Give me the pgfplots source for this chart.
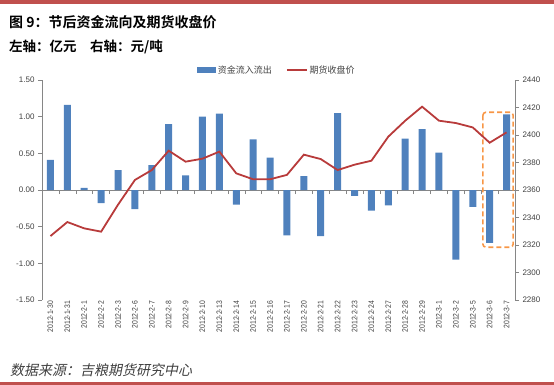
\documentclass[border=0pt]{standalone}
\usepackage{pgfplots}
\pgfplotsset{compat=1.18}
\usepackage{fontspec}
\setmainfont{Liberation Sans}
\newfontfamily\cjk{Noto Sans CJK SC}
\newfontfamily\cjkb{Noto Sans CJK SC Bold}
\newfontfamily\cjkit[FakeSlant=0.2]{Noto Sans CJK SC}
\newfontfamily\narrow[FakeStretch=0.85]{Liberation Sans}
\definecolor{barblue}{HTML}{4F81BD}
\definecolor{linered}{HTML}{B83B3B}
\definecolor{frame}{HTML}{C0504D}
\definecolor{axgray}{HTML}{868686}
\definecolor{boxorange}{HTML}{F79646}
\definecolor{txt}{HTML}{404040}
\pgfplotsset{base/.style={at={(42pt,-300pt)}, anchor=south west, width=473pt, height=220pt,
  scale only axis, xmin=-0.5, xmax=27.5, clip=false,
  tick style={axgray, thin}, major tick length=4pt,
  /pgf/number format/assume math mode=true,
  /pgf/number format/set thousands separator={}}}
\begin{document}
\begin{tikzpicture}
\path[use as bounding box] (0pt,0pt) rectangle (554pt,-385pt);
\fill[frame] (0pt,0pt) rectangle (554pt,-4pt);
\fill[frame] (0pt,-382pt) rectangle (554pt,-385pt);
\node[anchor=west, inner sep=0pt, font=\cjkb\fontsize{14}{16}\selectfont] at (9pt,-22.5pt) {图 9：节后资金流向及期货收盘价};
\node[anchor=west, inner sep=0pt, font=\cjkb\fontsize{13.5}{16}\selectfont] at (9pt,-47pt) {左轴：亿元\quad 右轴：元/吨};
\node[anchor=west, inner sep=0pt, text=txt, font=\cjkit\fontsize{14}{16}\selectfont] at (10pt,-370pt) {数据来源：吉粮期货研究中心};

% x tick labels
\begin{axis}[base, ymin=-1.5, ymax=1.5,
  axis x line*=bottom, axis y line=none, x axis line style={draw=none},
  xtick={0,...,27}, xtick style={draw=none},
  xticklabels={2012-1-30,2012-1-31,2012-2-1,2012-2-2,2012-2-3,2012-2-6,2012-2-7,2012-2-8,2012-2-9,2012-2-10,2012-2-13,2012-2-14,2012-2-15,2012-2-16,2012-2-17,2012-2-20,2012-2-21,2012-2-22,2012-2-23,2012-2-24,2012-2-27,2012-2-28,2012-2-29,2012-3-1,2012-3-2,2012-3-5,2012-3-6,2012-3-7},
  xticklabel style={rotate=90, anchor=east, inner sep=1pt, text=txt, font=\narrow\fontsize{8}{9}\selectfont}]
\addplot[draw=none] coordinates {(0,0)};
\end{axis}

% bars, left axis
\begin{axis}[base, ymin=-1.5, ymax=1.5,
  axis x line=middle, axis y line*=left,
  x axis line style={-, axgray}, y axis line style={-, axgray},
  hide obscured x ticks=false, hide obscured y ticks=false,
  xtick={0.5,1.5,...,26.5}, xticklabels={}, xtick align=outside,
  ytick={-1.5,-1,...,1.5}, ytick align=outside,
  yticklabel style={text=txt, font=\fontsize{8}{9}\selectfont,
    /pgf/number format/.cd, fixed, fixed zerofill, precision=2}]
\addplot[ybar, bar width=7pt, fill=barblue, draw=none] coordinates {
(0,0.41) (1,1.16) (2,0.03) (3,-0.18) (4,0.27) (5,-0.26) (6,0.34) (7,0.90)
(8,0.20) (9,1.00) (10,1.04) (11,-0.20) (12,0.69) (13,0.44) (14,-0.62) (15,0.19)
(16,-0.63) (17,1.05) (18,-0.08) (19,-0.28) (20,-0.21) (21,0.70) (22,0.83) (23,0.51)
(24,-0.95) (25,-0.23) (26,-0.72) (27,1.03)};
\draw[boxorange, line width=1.6pt, dash pattern=on 5pt off 3pt, rounded corners=3pt]
  (axis cs:25.6,1.06) rectangle (axis cs:27.39,-0.78);
\end{axis}

% line, right axis
\begin{axis}[base, ymin=2280, ymax=2440,
  axis x line=none, axis y line*=right, y axis line style={-, axgray},
  ytick={2280,2300,...,2440}, ytick align=outside,
  yticklabel style={text=txt, font=\fontsize{8}{9}\selectfont},
  legend style={at={(0.497,1.045)}, anchor=center, draw=none, fill=none,
    legend columns=2, font=\cjk\fontsize{9}{10}\selectfont, text=txt,
    /tikz/every even column/.append style={column sep=12pt}}]
\addlegendimage{legend image code/.code={\fill[barblue] (0pt,-2.5pt) rectangle (18pt,2.5pt);}}
\addlegendentry{资金流入流出}
\addplot[linered, line width=1.8pt, mark=none, legend image code/.code={\draw[linered, line width=1.8pt] (0pt,0pt) -- (20pt,0pt);}] coordinates {
(0,2326.5) (1,2336.7) (2,2332.1) (3,2329.7) (4,2349.3) (5,2367.3) (6,2374.5) (7,2388.6)
(8,2380.6) (9,2382.8) (10,2387.9) (11,2372.1) (12,2367.8) (13,2367.8) (14,2371.0) (15,2385.7)
(16,2382.5) (17,2374.5) (18,2378.4) (19,2381.3) (20,2398.8) (21,2410.4) (22,2420.6) (23,2410.4)
(24,2408.7) (25,2405.5) (26,2394.4) (27,2401.9)};
\addlegendentry{期货收盘价}
\end{axis}
\end{tikzpicture}
\end{document}
